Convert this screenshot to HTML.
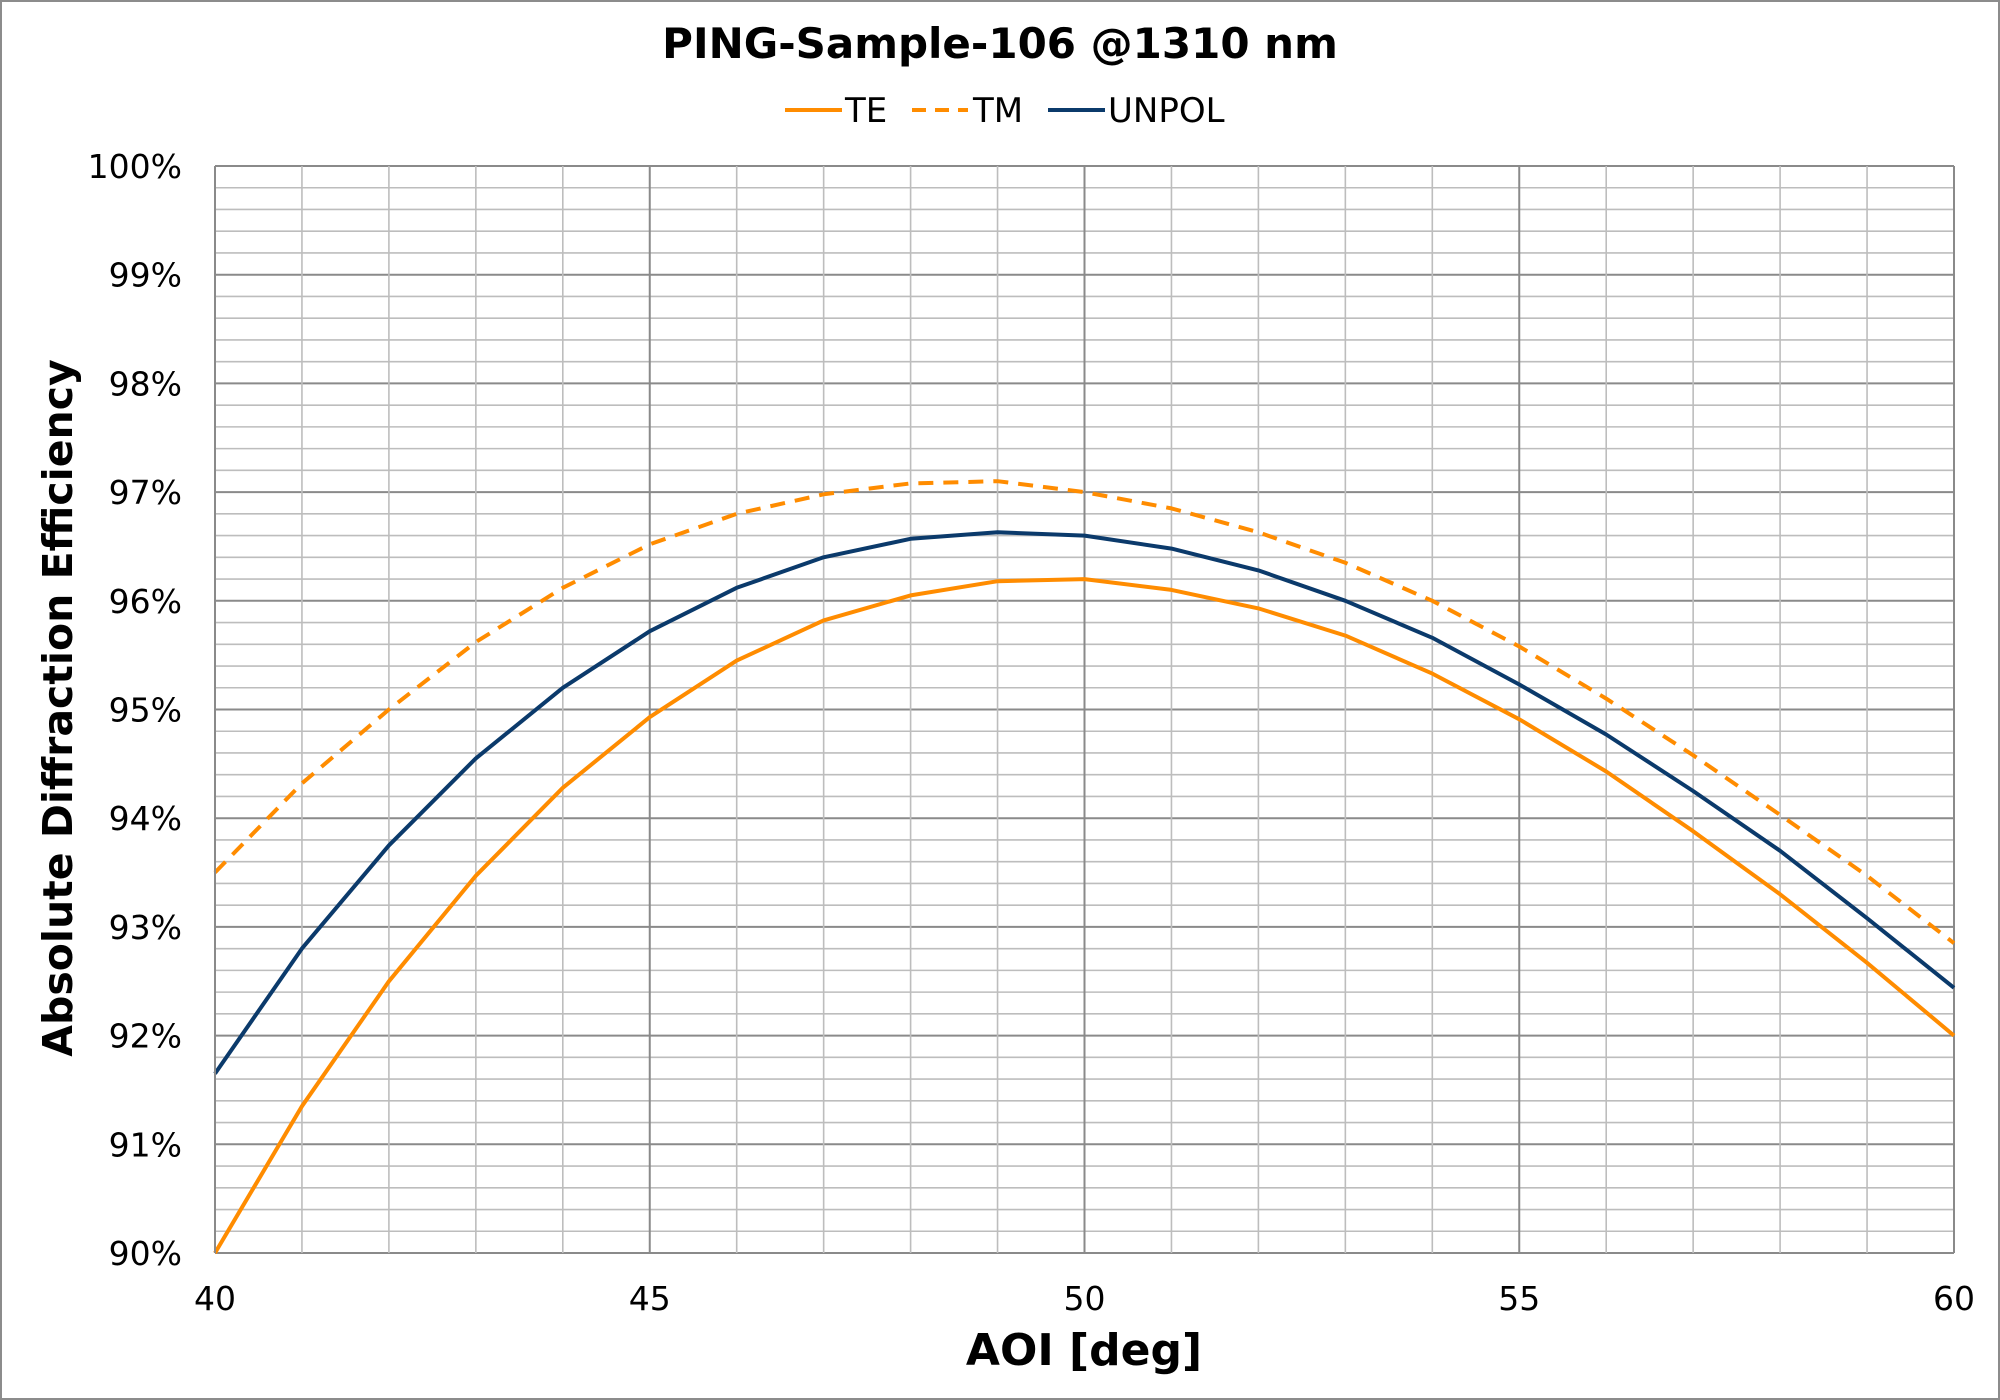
<!DOCTYPE html>
<html><head><meta charset="utf-8"><style>
html,body{margin:0;padding:0;background:#fff}
svg{display:block;font-family:"DejaVu Sans","Liberation Sans",sans-serif}
</style></head><body>
<svg id="chart" width="2000" height="1400" viewBox="0 0 2000 1400">
<rect x="1" y="1" width="1998" height="1398" fill="#fff" stroke="#8c8c8c" stroke-width="2"/>
<text x="1000" y="58" text-anchor="middle" font-size="42" font-weight="bold" fill="#000">PING-Sample-106 @1310 nm</text>
<g id="legend">
<g><line x1="785" y1="110" x2="842" y2="110" stroke="#FF8C00" stroke-width="4"/><text x="845" y="122" font-size="34">TE</text></g>
<g><line x1="912" y1="110" x2="968" y2="110" stroke="#FF8C00" stroke-width="4" stroke-dasharray="14,9"/><text x="973" y="122" font-size="34">TM</text></g>
<g><line x1="1048" y1="110" x2="1105" y2="110" stroke="#0B3A6B" stroke-width="4"/><text x="1108" y="122" font-size="34">UNPOL</text></g>
</g>
<g id="grid"></g>
<g id="series"></g>
<g id="axes"></g>
<text x="1084" y="1365" text-anchor="middle" font-size="44" font-weight="bold">AOI [deg]</text>
<text transform="translate(72,708) rotate(-90)" text-anchor="middle" font-size="41" font-weight="bold">Absolute Diffraction Efficiency</text>
</svg>
<script>
const aoi = [40,41,42,43,44,45,46,47,48,49,50,51,52,53,54,55,56,57,58,59,60];
const teValues = [90.0,91.35,92.5,93.47,94.28,94.93,95.45,95.82,96.05,96.18,96.2,96.1,95.93,95.68,95.33,94.91,94.43,93.88,93.3,92.67,92.0];
const tmValues = [93.5,94.32,95.0,95.62,96.12,96.52,96.8,96.98,97.08,97.1,97.0,96.85,96.63,96.35,96.0,95.58,95.1,94.58,94.03,93.47,92.85];
const unpolValues = [91.65,92.8,93.75,94.55,95.2,95.72,96.12,96.4,96.57,96.63,96.6,96.48,96.28,96.0,95.66,95.23,94.77,94.25,93.7,93.08,92.44];
const xTicks = [40,45,50,55,60];
const yTicks = [90,91,92,93,94,95,96,97,98,99,100];

const L=215,R=1954,T=166,B=1253;
const xMin=40,xMax=60,yMin=90,yMax=100;
const xs=v=>L+(v-xMin)/(xMax-xMin)*(R-L);
const ys=v=>B-(v-yMin)/(yMax-yMin)*(B-T);
const NS='http://www.w3.org/2000/svg';
function mk(tag,attrs,parent){const e=document.createElementNS(NS,tag);for(const k in attrs)e.setAttribute(k,attrs[k]);parent.appendChild(e);return e;}
const grid=document.getElementById('grid');
for(let i=0;i<=50;i++){
  const v=yMin+i*0.2; const y=ys(v); const major=(i%5===0);
  const l=mk('line',{x1:L,x2:R,y1:y,y2:y,stroke:major?'#8a8a8a':'#bdbdbd','stroke-width':major?2:1.6},grid);
  
  
}
for(let v=xMin;v<=xMax;v++){
  const x=xs(v); const major=(v%5===0);
  const l=mk('line',{x1:x,x2:x,y1:T,y2:B,stroke:major?'#8a8a8a':'#bdbdbd','stroke-width':major?2:1.6},grid);
  
  
}
const axes=document.getElementById('axes');
const ya=mk('line',{x1:L,x2:L,y1:T,y2:B,stroke:'#8a8a8a','stroke-width':2},axes);


yTicks.forEach(v=>{
  const t=mk('text',{x:182,y:ys(v)+12,'text-anchor':'end','font-size':33,fill:'#000'},axes);
  t.textContent=v+'%';
  
  
});
xTicks.forEach(v=>{
  const t=mk('text',{x:xs(v),y:1310,'text-anchor':'middle','font-size':33,fill:'#000'},axes);
  t.textContent=String(v);
  
  
});
const series=document.getElementById('series');
function drawLine(vals,color,dash,name){
  const d=vals.map((v,i)=>(i?'L':'M')+xs(aoi[i]).toFixed(1)+','+ys(v).toFixed(1)).join(' ');
  const p=mk('path',{d:d,fill:'none',stroke:color,'stroke-width':4,'stroke-linejoin':'round'},series);
  if(dash)p.setAttribute('stroke-dasharray',dash);
  
  
}
drawLine(tmValues,'#FF8C00','15,10','tm-line');
drawLine(teValues,'#FF8C00',null,'te-line');
drawLine(unpolValues,'#0B3A6B',null,'unpol-line');
</script>
</body></html>
